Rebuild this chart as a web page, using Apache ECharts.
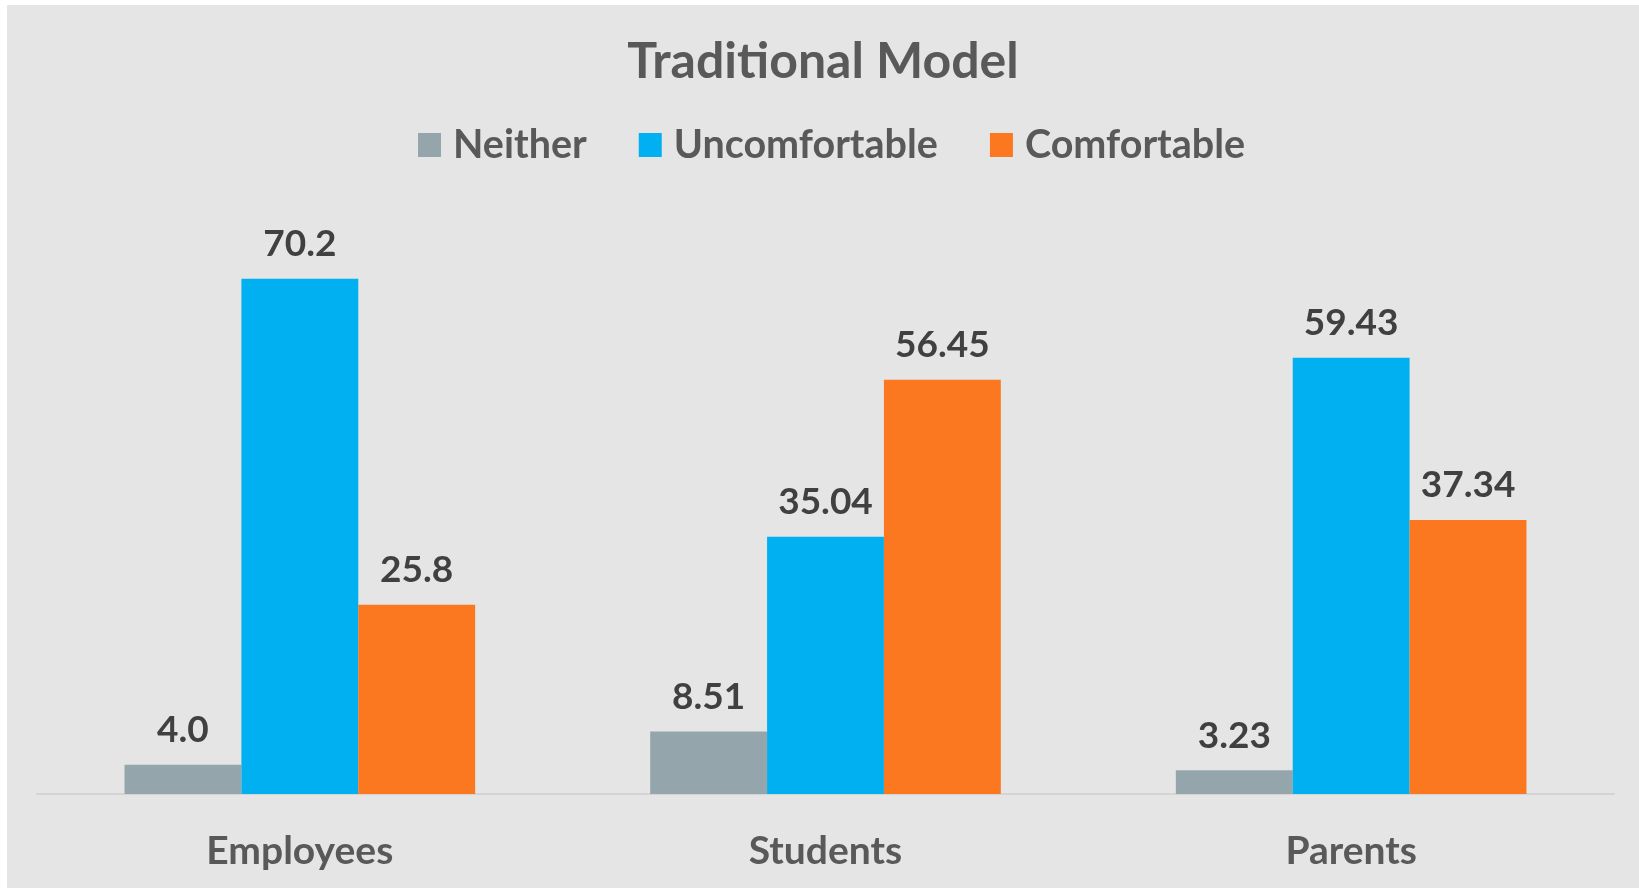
<!DOCTYPE html>
<html>
<head>
<meta charset="utf-8">
<script src="https://cdn.jsdelivr.net/npm/echarts@6/dist/echarts.min.js"></script>
<style>
  html, body { margin: 0; padding: 0; background: #ffffff; }
  #chart { position: absolute; left: 7px; top: 5px; width: 1632px; height: 883px; }
</style>
</head>
<body>
<div id="chart"></div>
<script>
const categories = ['Employees', 'Students', 'Parents'];
const seriesNames = ['Neither', 'Uncomfortable', 'Comfortable'];
const neitherValues = [4.0, 8.51, 3.23];
const uncomfortableValues = [70.2, 35.04, 59.43];
const comfortableValues = [25.8, 56.45, 37.34];
const labelDecimals = [1, 2, 2];

const colors = ['#94A6AB', '#00B0F0', '#FB7820'];
const FONT = 'Lato';

function makeSeries(name, values, color) {
  return {
    name: name,
    type: 'bar',
    data: values,
    barGap: '0%',
    barCategoryGap: '33.3%',
    itemStyle: { color: color },
    label: {
      show: true,
      position: 'top',
      distance: 16,
      fontFamily: FONT,
      fontWeight: 'bold',
      fontSize: 37,
      color: '#404040',
      formatter: p => p.value.toFixed(labelDecimals[p.dataIndex])
    }
  };
}

const chart = echarts.init(document.getElementById('chart'), null, { renderer: 'canvas' });
chart.setOption({
  backgroundColor: '#E5E5E5',
  animation: false,
  title: {
    text: 'Traditional Model',
    left: 'center',
    top: 27,
    textStyle: { fontFamily: FONT, fontWeight: 'bold', fontSize: 50, color: '#595959' }
  },
  legend: {
    data: seriesNames,
    top: 115,
    left: 406,
    itemWidth: 23,
    itemHeight: 24,
    itemGap: 52,
    icon: 'rect',
    textStyle: { fontFamily: FONT, fontWeight: 'bold', fontSize: 39.5, color: '#595959', padding: [0, 0, 0, 7] }
  },
  grid: { left: 30, right: 25, top: 201.8, bottom: 94 },
  xAxis: {
    type: 'category',
    data: categories,
    axisLine: { show: true, lineStyle: { color: '#D4D4D4', width: 2 } },
    axisTick: { show: false },
    axisLabel: { margin: 38, fontFamily: FONT, fontWeight: 'bold', fontSize: 39, color: '#595959' }
  },
  yAxis: {
    type: 'value',
    min: 0,
    max: 80,
    show: false,
    splitLine: { show: false }
  },
  series: [
    makeSeries(seriesNames[0], neitherValues, colors[0]),
    makeSeries(seriesNames[1], uncomfortableValues, colors[1]),
    makeSeries(seriesNames[2], comfortableValues, colors[2])
  ]
});
</script>
</body>
</html>
